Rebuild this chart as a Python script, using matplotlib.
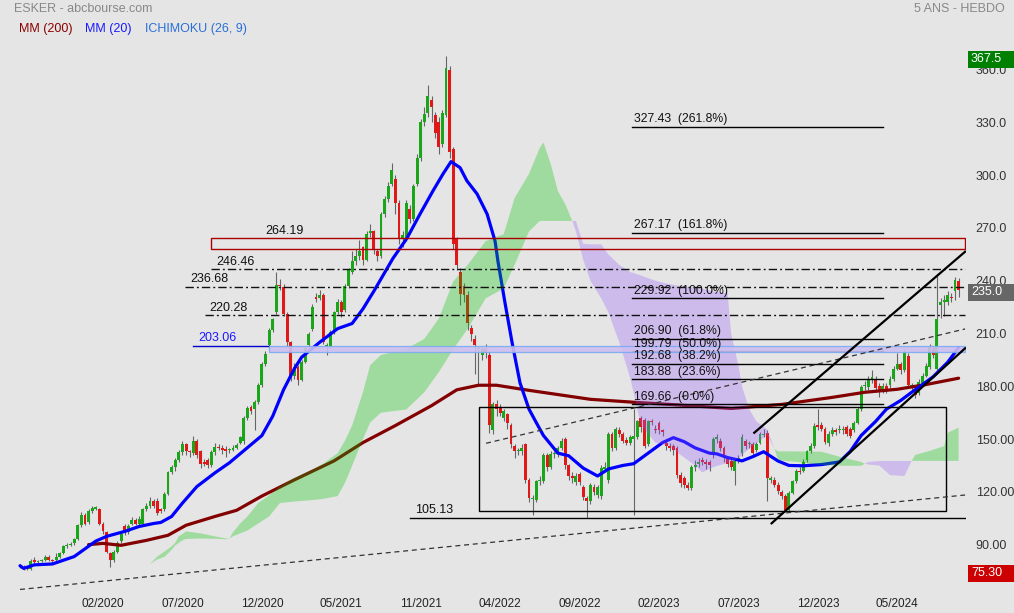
import matplotlib
matplotlib.use("Agg")
import matplotlib.pyplot as plt
from matplotlib.patches import Rectangle
import numpy as np

plt.rcParams['font.family'] = ['Liberation Sans', 'DejaVu Sans']

# weekly candles, index 0 = week of 16/09/2019
opens = [
    78, 77.5, 76.5, 76, 81.5, 80, 80.5, 81, 83, 81,
    81, 83, 85, 89, 89.5, 91, 93, 101, 107, 103,
    109, 110.5, 110, 102, 97, 85, 81, 86, 92, 100.5,
    97, 102, 104, 102, 102, 110, 112, 115, 115, 110,
    110, 119, 131, 134, 138, 142.6, 147, 143, 142, 149,
    143, 137, 138, 135, 142.6, 145.5, 145, 144.5, 143.5, 144,
    145, 148, 149, 162, 168, 167, 171, 180.5, 192.6, 203.5,
    212, 222, 237.5, 236.7, 221, 205, 186, 191, 183.6, 194,
    203.5, 212.6, 230.5, 230, 232, 203, 203, 211, 222, 228,
    223.5, 237, 245, 251, 254, 259, 252, 267, 268, 257,
    254, 278, 286.6, 295, 298, 284, 264, 264, 281, 275,
    295, 310, 330, 335.6, 343, 334, 330, 318, 334, 360,
    315, 263.6, 245, 237, 232, 213, 207, 201, 198, 201,
    198, 155, 170, 168, 162, 164, 158, 146, 143, 143,
    147, 127, 116, 115.6, 126, 126, 141, 134, 141.6, 141.6,
    145, 150, 135, 129, 125.5, 130, 123, 116.5, 114.7, 123,
    118, 117.6, 133, 126.8, 152.6, 145, 155, 153, 149.5, 148,
    150, 151, 162, 161, 147, 160, 156, 159, 155, 148,
    146, 146, 145, 129.6, 128, 124, 122, 134, 136, 138,
    137, 137, 141, 150, 149, 145, 139, 137.5, 132, 138,
    142, 149, 147, 147, 144, 148, 152.5, 153.7, 127, 127,
    124, 120, 117.6, 109.6, 119.4, 126, 132, 132, 138, 143,
    146, 158, 158, 156, 147.6, 153, 155, 155, 155, 157,
    156, 155, 159.4, 167, 180, 179.4, 184, 184, 180, 178,
    180, 181, 184, 190, 192.6, 189, 197, 180, 178, 176,
    182, 186, 191, 202, 190, 226, 228, 228, 231, 234,
    240]
highs = [
    79, 78.5, 77.5, 82, 83, 81.5, 82, 84, 84, 82,
    85, 86, 90, 91, 91.5, 94, 102, 108.5, 108, 110,
    112, 112, 111, 103, 98, 86, 87, 92, 97, 101.5,
    101.5, 105.5, 105, 106, 111, 113.5, 117, 116, 116.5, 111,
    120, 132, 135.5, 139, 143.5, 149, 148, 144, 151.5, 150,
    144, 138.5, 139.5, 144, 147.5, 147, 146.5, 146, 145, 146.5,
    148, 152, 163, 169, 169.5, 172, 182, 194, 200, 213,
    219, 245, 241, 238, 222, 206, 193, 192, 195, 203,
    211, 227, 233, 235, 233, 204.5, 212, 223, 229.5, 229,
    238, 247, 257, 258, 263, 260, 268, 272, 269, 258,
    279, 288, 296, 307, 300, 286, 268, 286, 283, 295,
    312, 332, 339, 351, 345, 336, 333, 337, 367.5, 362,
    316, 265, 247, 239, 234, 215, 209, 203, 202.5, 204,
    200, 171, 172, 170, 167, 165, 159, 147, 145, 147,
    148, 128, 118, 127, 129, 142, 142, 143, 143, 146,
    150.5, 151, 136, 131, 130.5, 131, 124, 117.5, 125, 124.5,
    124, 135, 137, 154, 154, 157, 157, 154, 151, 152.5,
    167, 161, 163, 162, 161, 161.5, 158, 160, 156, 149,
    147.5, 147, 146, 131, 129, 125.5, 135, 138, 139, 140,
    138.5, 138, 151, 153, 150.5, 146, 140, 139, 139, 141,
    153, 150, 149, 148.5, 148.5, 154, 156, 155, 129, 128.5,
    125.5, 121, 119, 120.5, 127, 133, 134, 138.5, 144, 147.5,
    159, 167, 159.5, 157, 154.5, 157, 156.5, 158, 157.5, 158,
    157, 160.5, 168.5, 181, 183, 186, 189, 186, 182, 182,
    182, 186, 191.5, 199, 194, 201, 199, 182, 180, 184,
    187.5, 193, 204, 203, 243, 230, 232, 234, 233, 242,
    241.5]
lows = [
    76.5, 75.8, 75.3, 75.8, 79, 79.5, 80, 80.5, 80.5, 79.5,
    80, 82.5, 84.5, 88, 89, 90, 92.5, 100, 101, 102,
    108, 109.5, 101, 96, 85, 77.5, 80, 85, 91, 95.5,
    96, 101, 101, 101, 101, 109, 111, 111, 107, 108,
    109, 118, 130, 132, 137, 141, 141, 140, 141, 139,
    133.5, 134.5, 133.5, 134, 141, 144, 141.5, 140, 142, 143,
    144.5, 147, 147, 161, 164, 155, 170, 179.5, 191.5, 202,
    211, 221, 235, 220, 203, 183, 184, 181, 183, 193,
    202.5, 211.5, 228, 229, 204, 198, 202, 210, 221, 219.5,
    222.5, 236, 244, 249, 252, 249, 251, 265, 255, 251.5,
    253, 276, 285, 294, 278, 261, 259, 262.5, 273, 274,
    294, 308, 328, 333, 330, 321, 312, 316, 333, 310,
    258, 246, 226, 228, 212, 206, 187, 181, 195, 196,
    153.6, 153, 163, 163, 160, 156, 145, 139, 141, 141,
    125, 114, 106.7, 114, 124, 125, 132, 133, 139, 140,
    144, 133, 127, 125, 124, 124, 115.5, 105.1, 113, 118,
    116.5, 116, 131, 125, 143, 144, 151, 147.5, 146.5, 146.5,
    106.7, 150, 154, 145, 146, 158, 153.5, 153, 152, 144,
    143, 141, 128, 123, 122, 121, 121, 132, 134, 135,
    133, 132, 139, 148, 143, 137, 134, 132.5, 124, 136.5,
    140.5, 144.5, 145, 140, 142.5, 147, 151, 115, 125, 123,
    119, 116, 108.7, 108.5, 118.5, 125, 130, 131, 137, 142,
    145, 155, 154.5, 147, 146, 152, 152.5, 153.5, 153, 151.5,
    150.5, 154, 158.5, 166, 178, 178, 182, 177, 174, 176,
    176, 179, 183, 189, 187, 188, 179, 178, 173.5, 175,
    180.5, 185, 190, 196, 189, 219, 220, 226, 228, 229,
    231]
closes = [
    77.5, 76.5, 76, 80.5, 80, 80.5, 81, 83, 81, 80.5,
    83, 85, 89, 89.5, 90, 93, 101, 107, 102, 109,
    111, 110.8, 102, 97.5, 86, 81, 86, 91, 96, 96.5,
    100.6, 104, 102, 104.5, 110, 112, 115, 112, 108, 109,
    119, 131, 134, 138, 142.6, 147, 143, 142.5, 149, 141,
    136, 136, 135, 142.6, 145.5, 145, 143.5, 143, 143.8, 145,
    146.5, 151, 162, 167.5, 166, 171, 180.5, 192.6, 198.3, 212,
    218, 237.8, 237, 221, 205, 186, 191, 183.6, 194, 202,
    210, 225, 229.5, 232, 205, 203.5, 211, 222, 228, 222,
    237, 246, 251, 254, 257, 252, 266.5, 268, 258, 254,
    278, 286.6, 294, 302.7, 284, 263.6, 266, 284, 275, 294,
    310, 330, 335, 345, 339, 324, 316, 335.6, 361, 313,
    261, 249, 232.6, 232, 216, 210, 203.5, 201.5, 201, 199,
    158, 170, 167, 165, 166, 159, 147, 143, 143.5, 145,
    127, 116.5, 116.5, 126, 127, 141, 134, 141.6, 141.8, 145,
    149, 135, 129, 128, 129, 125.5, 117, 114.7, 124, 120,
    123, 133.6, 134, 152.6, 145, 156, 153, 149, 148, 151,
    152, 160, 157, 146, 160, 159.5, 155, 155, 154, 146,
    145, 144, 129.6, 125, 124, 122, 134, 135, 137, 137,
    136, 135, 150, 151, 145, 139.4, 136, 134, 137.6, 139,
    151, 146, 147.3, 142, 147, 152.6, 153, 128, 127.5, 124,
    120.5, 117.6, 109.6, 119.4, 126, 132, 131.5, 137, 143, 146,
    157.6, 157, 156, 148.6, 153, 155, 154, 156, 156, 153,
    152, 159, 167, 179.4, 181, 184, 185, 179, 177.5, 180,
    178, 184, 190, 192.6, 189, 199.5, 180.6, 180.5, 175, 182.3,
    186, 191.6, 202.3, 197.8, 218.5, 228, 229, 232, 230, 240.6,
    235]

# moving averages (bar index, value)
mm20_idx = [0, 1, 4, 9, 15, 21, 24, 29, 33, 37, 39, 42, 45, 49, 54, 58, 62, 67,
            70, 73, 76, 78, 83, 88, 92, 95, 98, 103.3, 107.2, 110.8, 114.4,
            117.2, 119.4, 121.9, 123.8, 126.6, 129.4, 131.6, 132.4, 134.3,
            136.3, 138.5, 141, 143, 145, 149, 152, 156, 160, 163, 167, 170,
            174, 178, 181, 184, 187, 191, 193, 196, 200, 203, 206, 210, 213,
            217, 222, 227, 230, 233, 237, 240, 244, 247, 250, 253, 257, 260]
mm20 = [78, 76.5, 78.5, 79, 83.2, 92, 94.7, 97.5, 100.3, 102, 102.6, 106, 113.6,
        123, 130.8, 136.5, 143.4, 152, 163, 178, 190, 196.5, 205, 212.8, 215.7,
        224, 234, 252.7, 264.2, 277.9, 291.1, 300.8, 307.7, 304.3, 296.8,
        289.4, 277.9, 262.5, 251, 228, 205, 182, 167, 159.4, 152, 142, 140.5,
        133.5, 129, 133, 135, 136, 142, 148, 150.8, 148.5, 145, 142, 141.6,
        139.5, 137.6, 140, 142.8, 137.5, 135, 134.8, 135.5, 137, 143, 152,
        160, 167, 172, 176.6, 181, 185.5, 193.7, 202]
mm200_idx = [19, 23, 28, 35, 41, 46, 54, 60, 67, 76, 87, 95, 104, 114, 121, 127,
             132, 141, 150, 158, 171, 180, 189, 197, 211, 225, 234, 243, 251, 260]
mm200 = [90, 90.7, 89.6, 92.4, 95.3, 101, 106, 109.5, 117.6, 126.8, 137.6, 148,
         157.7, 169, 178, 180.6, 180.6, 177.7, 175, 172.6, 170.8, 169.7, 168.5,
         167.4, 169.7, 173.7, 176.6, 178.3, 181, 184.6]

# ichimoku cloud (bar index, span A, span B)
cloud_idx = [36, 38, 40, 42, 43, 44, 45, 46, 50, 54, 57, 58, 59, 61, 63, 66, 69,
             72, 76, 81, 84, 88, 90, 92, 95, 97, 100, 107, 112, 116, 120, 124,
             129, 134, 137, 141, 144, 145, 147, 149, 151, 153, 154, 156, 158,
             161, 163, 166, 169, 172, 176, 180, 183, 187, 189, 192, 196, 197,
             199, 200, 202, 204, 207, 209, 210, 215, 222, 228, 233, 234, 235,
             238, 241, 245, 247, 248, 252, 256, 257, 260]
span_a = [79, 83.2, 86, 89, 91, 94.7, 96, 97.5, 96.4, 94.7, 93.5, 93.5, 97, 102,
          106, 113.6, 118, 123, 128, 132.5, 136, 142, 149, 157.7, 176.6, 192,
          197.8, 201.2, 207, 218.4, 239.6, 249, 262.5, 266.5, 287, 300.8, 315.6,
          318.6, 306.6, 291, 283.7, 274, 268, 252, 240, 230, 222, 205, 185, 158,
          148, 146, 141, 135, 131, 134, 136.5, 137, 139, 141, 144.5, 147.5,
          152.5, 144.5, 143, 143, 142.8, 139.4, 137, 136, 135.5, 135, 129.5,
          129, 137.6, 141, 143.3, 146, 153.6, 156.5]
span_b = [79, 81.5, 83, 87, 89.5, 91, 92.4, 93.2, 93.5, 93.3, 93, 93.5, 94.7,
          96.4, 98, 102, 106, 113.6, 114.5, 115.3, 116, 117.6, 125, 134.8, 150,
          159.4, 165, 166.8, 176.6, 188, 201, 212.6, 230, 235.6, 249, 268, 274,
          274, 274, 274, 274, 274, 274, 261, 260.7, 260.7, 255, 249, 245, 243,
          240, 238, 237, 236, 235.5, 234, 233, 210, 192, 180, 167, 160, 155.4,
          144.5, 138, 137, 135.3, 134.8, 134.8, 136, 137, 137.5, 137.5, 137.5,
          137.6, 137.6, 137.6, 137.6, 137.6, 137.6]

# drawn levels
fib_values = [327.43, 267.17, 229.92, 206.90, 199.79, 192.68, 183.88, 169.66]
fib_pcts = ['261.8%', '161.8%', '100.0%', '61.8%', '50.0%', '38.2%', '23.6%', '0.0%']
dashdot_levels = [246.46, 236.68, 220.28]
zone_top = 264.19
zone_bottom = 258.0
support_zone = [199.6, 203.06]
low_level = 105.13
box_range = [109.1, 168.4]

# trend lines (bar index, price)
trend_long = [(0, 64.5), (261.8, 118.2)]
trend_short = [(129.1, 147.6), (261.8, 212.6)]
channel_up = [(203.4, 153.6), (261.8, 256.5)]
channel_low = [(208.2, 102.1), (261.8, 201.6)]

xtick_idx = [23, 45, 67, 89, 111, 133, 155, 177, 199, 221, 243]
xtick_labels = ['02/2020', '07/2020', '12/2020', '05/2021', '11/2021', '04/2022',
                '09/2022', '02/2023', '07/2023', '12/2023', '05/2024']
ytick_vals = [90, 120, 150, 180, 210, 240, 270, 300, 330, 360]
ytick_labels = ['90.00', '120.00', '150.00', '180.00', '210.0', '240.0', '270.0',
                '300.0', '330.0', '360.0']

BG = '#e5e5e5'
GREEN = '#1aa51a'
RED = '#e01818'

o = np.array(opens)
h = np.array(highs)
l = np.array(lows)
c = np.array(closes)
x = np.arange(len(c))

fig = plt.figure(figsize=(10.14, 6.13), dpi=100, facecolor=BG)
ax = fig.add_axes([0, 21 / 613, 966 / 1014, 592 / 613])
ax.set_facecolor(BG)
ax.set_xlim(-20 / 3.61, 946 / 3.61)
ax.set_ylim(63.06, 399.6)
for s in ax.spines.values():
    s.set_visible(False)
RIGHT = 261.8

# candles
colors = np.where(c >= o, GREEN, RED)
ax.vlines(x, l, h, color='#666666', lw=0.8, zorder=2)
ax.bar(x, np.maximum(np.abs(c - o), 0.6), bottom=np.minimum(o, c), width=0.8,
       color=colors, lw=0, zorder=3)

# moving averages
ax.plot(mm200_idx, mm200, color='#820000', lw=2.3, zorder=4,
        solid_capstyle='round', solid_joinstyle='round')
ax.plot(mm20_idx, mm20, color='#0000ff', lw=2.3, zorder=4,
        solid_capstyle='round', solid_joinstyle='round')

# cloud
sa = np.array(span_a)
sb = np.array(span_b)
ax.fill_between(cloud_idx, sa, sb, where=sa >= sb, interpolate=True,
                color=(0.0, 0.78, 0.0), alpha=0.3, lw=0, zorder=5)
ax.fill_between(cloud_idx, sa, sb, where=sa < sb, interpolate=True,
                color=(0.59, 0.36, 1.0), alpha=0.3, lw=0, zorder=5)

# fibonacci
for v, p in zip(fib_values, fib_pcts):
    ax.plot([169.5, 239], [v, v], color='black', lw=1, zorder=6)
    ax.text(170, v + 0.9, f'{v:.2f}  ({p})', fontsize=8.8, color='#111111',
            va='bottom', ha='left', zorder=7)

# dash-dot levels
dd_start = [52.9, 45.7, 51.2]
dd_text = [54.3, 47.1, 52.4]
for v, s0, t0 in zip(dashdot_levels, dd_start, dd_text):
    ax.plot([s0, RIGHT], [v, v], color='#111111', lw=1,
            dashes=(6, 2.2, 1.4, 2.2), zorder=6)
    ax.text(t0, v + 0.9, f'{v:.2f}', fontsize=9, color='#111111',
            va='bottom', ha='left', zorder=7)

# resistance zone
ax.add_patch(Rectangle((52.9, zone_bottom), RIGHT - 52.9, zone_top - zone_bottom,
                       fill=False, ec='#aa0000', lw=1, zorder=6))
ax.text(68, zone_top + 0.9, f'{zone_top:.2f}', fontsize=9, color='#111111',
        va='bottom', ha='left', zorder=7)

# support zone 203.06
ax.plot([47.9, 69], [support_zone[1], support_zone[1]], color='#0000cc', lw=1, zorder=6)
ax.add_patch(Rectangle((69, support_zone[0]), RIGHT - 69,
                       support_zone[1] - support_zone[0],
                       fc='#cdbff0', ec='#7aaaf2', lw=0.9, alpha=0.9, zorder=6))
ax.text(49.4, support_zone[1] + 0.9, f'{support_zone[1]:.2f}', fontsize=9,
        color='#1a1aff', va='bottom', ha='left', zorder=7)

# low level and range box
ax.plot([108, RIGHT], [low_level, low_level], color='black', lw=1, zorder=6)
ax.text(109.4, low_level + 0.9, f'{low_level:.2f}', fontsize=9, color='#111111',
        va='bottom', ha='left', zorder=7)
ax.add_patch(Rectangle((127.2, box_range[0]), 129.3, box_range[1] - box_range[0],
                       fill=False, ec='black', lw=1, zorder=6))

# trend lines
for seg in (trend_long, trend_short):
    ax.plot([seg[0][0], seg[1][0]], [seg[0][1], seg[1][1]], color='#333333',
            lw=0.9, dashes=(4, 3), zorder=6)
for seg in (channel_up, channel_low):
    ax.plot([seg[0][0], seg[1][0]], [seg[0][1], seg[1][1]], color='black',
            lw=1.6, zorder=6)

# axes ticks
ax.yaxis.tick_right()
ax.set_yticks(ytick_vals)
ax.set_yticklabels(ytick_labels)
ax.set_xticks(xtick_idx)
ax.set_xticklabels(xtick_labels)
ax.tick_params(axis='y', length=0, pad=7, labelsize=9, labelcolor='#333333')
ax.tick_params(axis='x', length=0, pad=4.5, labelsize=8.5, labelcolor='#222222')

# price boxes on the scale
ytr = ax.get_yaxis_transform()
for val, txt, col in [(367.5, '367.5', '#008000'), (235.0, '235.0', '#666666'),
                      (75.30, '75.30', '#cc0000')]:
    ax.add_patch(Rectangle((968 / 966, val - 6.5), 46 / 966, 9.7,
                           transform=ytr, fc=col, ec='none', clip_on=False, zorder=8))
    ax.text(971 / 966, val - 1.65, txt, transform=ytr, color='white', fontsize=9,
            va='center', ha='left', clip_on=False, zorder=9)

# header
fig.text(14 / 1014, 1 - 9 / 613, 'ESKER - abcbourse.com', fontsize=9,
         color='#888888', va='center', ha='left')
fig.text(1005 / 1014, 1 - 9 / 613, '5 ANS - HEBDO', fontsize=9,
         color='#888888', va='center', ha='right')
fig.text(19 / 1014, 1 - 29 / 613, 'MM (200)', fontsize=9, color='#8b0000',
         va='center', ha='left')
fig.text(85 / 1014, 1 - 29 / 613, 'MM (20)', fontsize=9, color='#1a1aff',
         va='center', ha='left')
fig.text(145 / 1014, 1 - 29 / 613, 'ICHIMOKU (26, 9)', fontsize=9, color='#2a6fd6',
         va='center', ha='left')

fig.savefig('out.png', dpi=100, facecolor=BG)
